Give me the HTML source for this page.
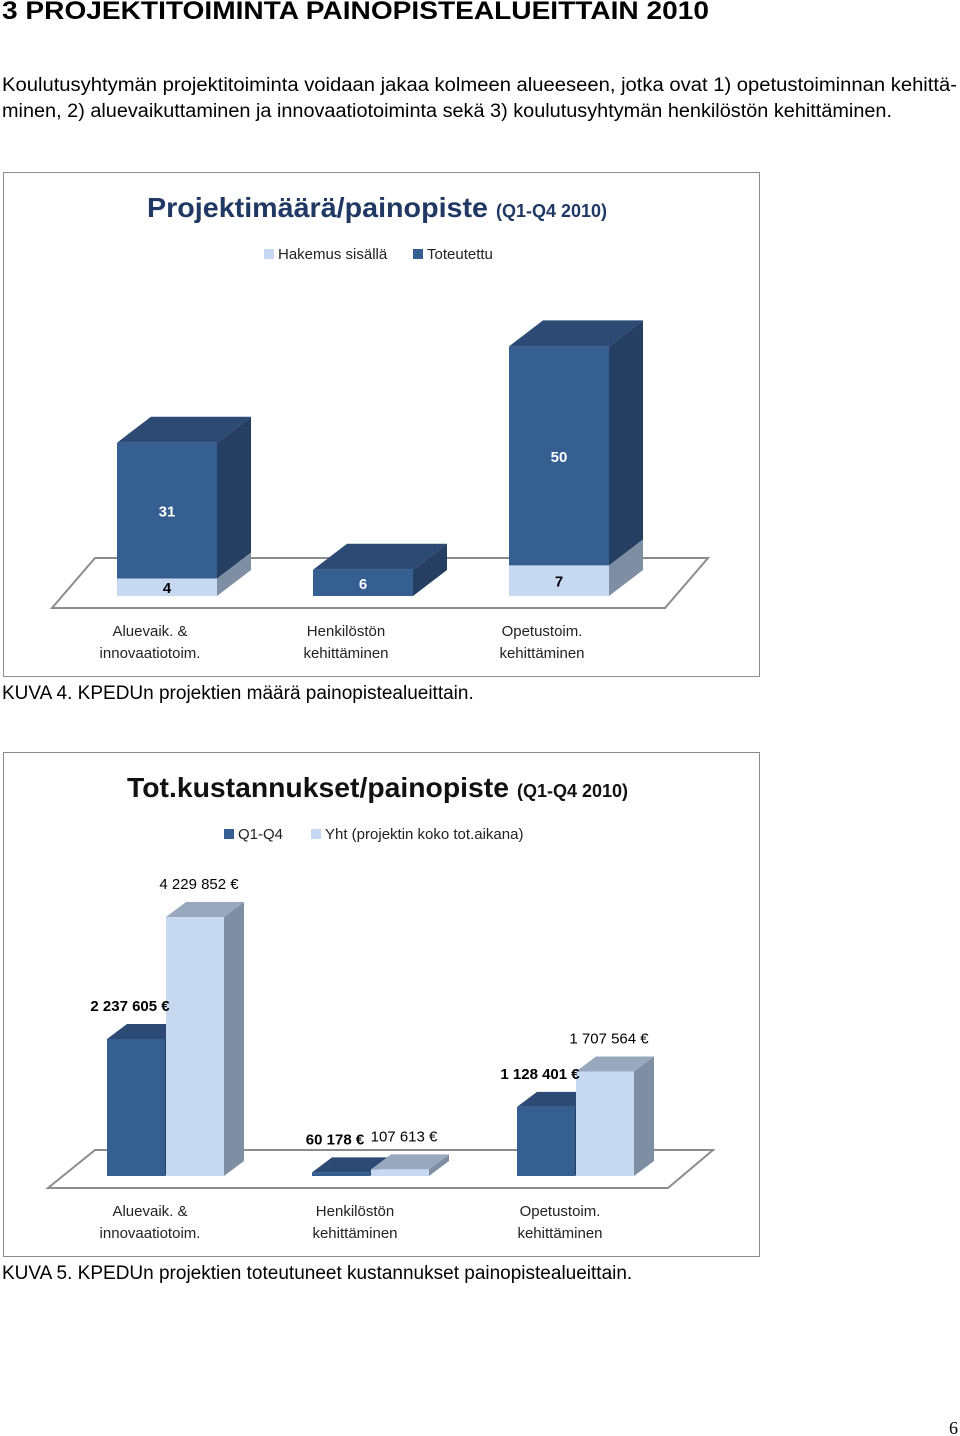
<!DOCTYPE html>
<html><head><meta charset="utf-8"><style>
body{margin:0;background:#fff;}
svg{display:block;}
</style></head><body>
<svg id="pg" width="960" height="1436" viewBox="0 0 960 1436" xmlns="http://www.w3.org/2000/svg">
<text x="2" y="19" font-family="Liberation Sans, sans-serif" font-weight="bold" font-size="25" textLength="707" lengthAdjust="spacingAndGlyphs">3 PROJEKTITOIMINTA PAINOPISTEALUEITTAIN 2010</text>
<text x="2" y="91" font-family="Liberation Sans, sans-serif" font-size="19" textLength="955" lengthAdjust="spacingAndGlyphs">Koulutusyhtymän projektitoiminta voidaan jakaa kolmeen alueeseen, jotka ovat 1) opetustoiminnan kehittä-</text>
<text x="2" y="117" font-family="Liberation Sans, sans-serif" font-size="19" textLength="890" lengthAdjust="spacingAndGlyphs">minen, 2) aluevaikuttaminen ja innovaatiotoiminta sekä 3) koulutusyhtymän henkilöstön kehittäminen.</text>

<g>
<rect x="3.5" y="172.5" width="756" height="504" fill="#fff" stroke="#8c8c8c"/>
<text x="147" y="217" font-family="Liberation Sans, sans-serif" font-weight="bold" font-size="28" fill="#1f3864"><tspan textLength="341" lengthAdjust="spacingAndGlyphs">Projektimäärä/painopiste</tspan><tspan font-size="18" dx="8">(Q1-Q4 2010)</tspan></text>
<rect x="264" y="249" width="10" height="10" fill="#c6d9f1"/>
<text x="278" y="259" font-family="Liberation Sans, sans-serif" font-size="15" fill="#222">Hakemus sisällä</text>
<rect x="413" y="249" width="10" height="10" fill="#365f91"/>
<text x="427" y="259" font-family="Liberation Sans, sans-serif" font-size="15" fill="#222">Toteutettu</text>
<polygon points="52,608 665,608 708,558 95,558" fill="#fff" stroke="#8c8c8c" stroke-width="2"/>
<g id="c1bars"></g>
<text x="150" y="636" text-anchor="middle" font-family="Liberation Sans, sans-serif" font-size="15" fill="#222"><tspan x="150">Aluevaik. &amp;</tspan><tspan x="150" dy="22">innovaatiotoim.</tspan></text>
<text x="346" y="636" text-anchor="middle" font-family="Liberation Sans, sans-serif" font-size="15" fill="#222"><tspan x="346">Henkilöstön</tspan><tspan x="346" dy="22">kehittäminen</tspan></text>
<text x="542" y="636" text-anchor="middle" font-family="Liberation Sans, sans-serif" font-size="15" fill="#222"><tspan x="542">Opetustoim.</tspan><tspan x="542" dy="22">kehittäminen</tspan></text>
</g>
<text x="2" y="699" font-family="Liberation Sans, sans-serif" font-size="19">KUVA 4. KPEDUn projektien määrä painopistealueittain.</text>

<g>
<rect x="3.5" y="752.5" width="756" height="504" fill="#fff" stroke="#8c8c8c"/>
<text x="127" y="797" font-family="Liberation Sans, sans-serif" font-weight="bold" font-size="28" fill="#111"><tspan textLength="382" lengthAdjust="spacingAndGlyphs">Tot.kustannukset/painopiste</tspan><tspan font-size="18" dx="8">(Q1-Q4 2010)</tspan></text>
<rect x="224" y="829" width="10" height="10" fill="#365f91"/>
<text x="238" y="839" font-family="Liberation Sans, sans-serif" font-size="15" fill="#222">Q1-Q4</text>
<rect x="311" y="829" width="10" height="10" fill="#c6d9f1"/>
<text x="325" y="839" font-family="Liberation Sans, sans-serif" font-size="15" fill="#222">Yht (projektin koko tot.aikana)</text>
<polygon points="48,1188 668,1188 713,1150 95,1150" fill="#fff" stroke="#8c8c8c" stroke-width="2"/>
<g id="c2bars"></g>
<text x="150" y="1216" text-anchor="middle" font-family="Liberation Sans, sans-serif" font-size="15" fill="#222"><tspan x="150">Aluevaik. &amp;</tspan><tspan x="150" dy="22">innovaatiotoim.</tspan></text>
<text x="355" y="1216" text-anchor="middle" font-family="Liberation Sans, sans-serif" font-size="15" fill="#222"><tspan x="355">Henkilöstön</tspan><tspan x="355" dy="22">kehittäminen</tspan></text>
<text x="560" y="1216" text-anchor="middle" font-family="Liberation Sans, sans-serif" font-size="15" fill="#222"><tspan x="560">Opetustoim.</tspan><tspan x="560" dy="22">kehittäminen</tspan></text>
</g>
<text x="2" y="1279" font-family="Liberation Sans, sans-serif" font-size="19">KUVA 5. KPEDUn projektien toteutuneet kustannukset painopistealueittain.</text>
<text x="958" y="1434" text-anchor="end" font-family="Liberation Serif, serif" font-size="18">6</text>
</svg>
<script>
// Chart 1 data
var c1Categories = ["Aluevaik. & innovaatiotoim.", "Henkilöstön kehittäminen", "Opetustoim. kehittäminen"];
var c1Hakemus = [4, 0, 7];
var c1Toteutettu = [31, 6, 50];
// Chart 2 data
var c2Categories = ["Aluevaik. & innovaatiotoim.", "Henkilöstön kehittäminen", "Opetustoim. kehittäminen"];
var c2Q1Q4 = [2237605, 60178, 1128401];
var c2Yht = [4229852, 107613, 1707564];
var c2LabelsQ = ["2 237 605 €", "60 178 €", "1 128 401 €"];
var c2LabelsY = ["4 229 852 €", "107 613 €", "1 707 564 €"];

var NS = "http://www.w3.org/2000/svg";
function mk(tag, attrs, parent){var e=document.createElementNS(NS,tag);for(var k in attrs)e.setAttribute(k,attrs[k]);parent.appendChild(e);return e;}
function box(g, x, w, yb, yt, dx, dy, cf, ct, cs, name){
  var grp=mk("g",{},g);
  
  
  mk("polygon",{points:(x+w)+","+yb+" "+(x+w+dx)+","+(yb+dy)+" "+(x+w+dx)+","+(yt+dy)+" "+(x+w)+","+yt,fill:cs},grp);
  mk("polygon",{points:x+","+yt+" "+(x+dx)+","+(yt+dy)+" "+(x+w+dx)+","+(yt+dy)+" "+(x+w)+","+yt,fill:ct},grp);
  mk("rect",{x:x,y:yt,width:w,height:Math.max(0,yb-yt),fill:cf},grp);
}
function lbl(g,x,y,t,fill,bold,name){
  var e=mk("text",{x:x,y:y,"text-anchor":"middle","font-family":"Liberation Sans, sans-serif","font-size":"15","font-weight":bold?"bold":"normal",fill:fill},g);
  e.textContent=t;
  
  
}
// chart 1 axes
var c1Base=596, c1Scale=4.38, c1X0=117, c1Step=196, c1W=100;
function c1y(v){return c1Base - v*c1Scale;}
function c1x(i){return c1X0 + i*c1Step;}
var g1=document.getElementById("c1bars");
for(var i=0;i<c1Categories.length;i++){
  var x=c1x(i), h=c1Hakemus[i], t=c1Toteutettu[i];
  if(h>0){
    box(g1,x,c1W,c1y(0),c1y(h),34,-26,"#c6d9f1","#a3b5cc","#7f8fa3","bar-hakemus-"+i);
  }
  box(g1,x,c1W,c1y(h),c1y(h+t),34,-26,"#365f91","#2c4a74","#243f62","bar-toteutettu-"+i);
  if(h>0) lbl(g1,x+c1W/2,(c1y(0)+c1y(h))/2+6,String(h),"#000",true,"value-hakemus-"+i);
  lbl(g1,x+c1W/2,(c1y(h)+c1y(h+t))/2+6,String(t),"#fff",true,"value-toteutettu-"+i);
}
// chart 2 axes
var c2Base=1176, c2Scale=259/4229852, c2X0=107, c2Step=205, c2W=58;
function c2y(v){return c2Base - v*c2Scale;}
function c2x(i){return c2X0 + i*c2Step;}
var g2=document.getElementById("c2bars");
for(var j=0;j<c2Categories.length;j++){
  var xq=c2x(j), xy=xq+c2W+1;
  box(g2,xq,c2W,c2Base,c2y(c2Q1Q4[j]),20,-15,"#365f91","#2c4a74","#243f62","bar-q1q4-"+j);
  box(g2,xy,c2W,c2Base,c2y(c2Yht[j]),20,-15,"#c6d9f1","#98a8bd","#7f8fa3","bar-yht-"+j);
  lbl(g2,xq+c2W/2-6,c2y(c2Q1Q4[j])-28,c2LabelsQ[j],"#000",true,"value-q1q4-"+j);
  lbl(g2,xy+c2W/2+4,c2y(c2Yht[j])-28,c2LabelsY[j],"#000",false,"value-yht-"+j);
}
</script>
</body></html>
